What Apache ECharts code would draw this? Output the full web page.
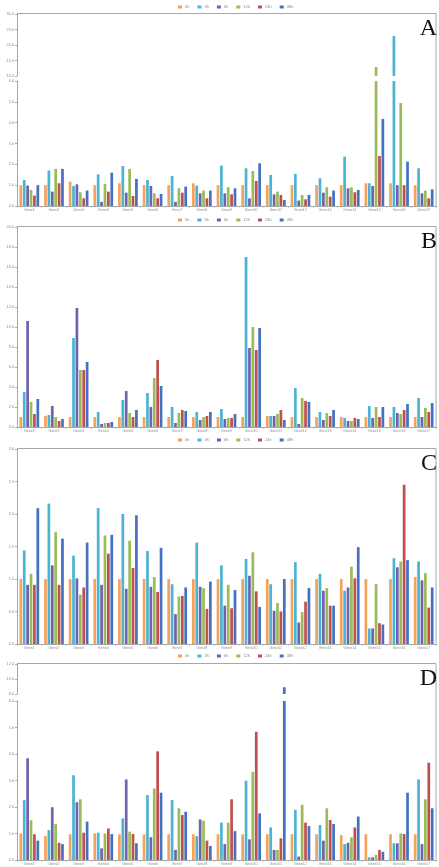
<!DOCTYPE html>
<html>
<head>
<meta charset="utf-8">
<script src="https://cdn.jsdelivr.net/npm/echarts@6/dist/echarts.min.js"></script>
<style>
  html, body { margin: 0; padding: 0; background: #fff; }
  #chart { width: 439px; height: 867px; }
</style>
</head>
<body>
<div id="chart"></div>
<script>
// Categories shared by all four panels
const categories = ['Gene1','Gene2','Gene3','Gene4','Gene5','Gene6','Gene7','Gene8','Gene9',
  'Gene10','Gene11','Gene12','Gene13','Gene14','Gene15','Gene16','Gene17'];

// Treatment time points (legend entries)
const seriesNames = ['0h','3h','6h','12h','24h','48h'];

// Panel A relative expression
const a0h  = [1.0,1.0,1.17,1.0,1.09,1.0,1.0,1.09,1.0,1.0,1.0,1.0,1.0,1.0,1.09,1.09,1.0];
const a3h  = [1.25,1.7,0.96,1.52,1.92,1.25,1.44,0.98,1.94,1.81,1.49,1.54,1.33,2.37,1.09,22.9,1.81];
const a6h  = [0.98,0.69,1.04,0.2,0.64,0.96,0.2,0.61,0.61,0.37,0.56,0.26,0.64,0.85,0.96,1.0,0.61];
const a12h = [0.77,1.78,0.66,1.06,1.78,0.61,0.85,0.74,0.9,1.68,0.69,0.53,0.9,0.9,12.9,4.94,0.74];
const a24h = [0.5,1.09,0.37,0.69,0.48,0.37,0.64,0.37,0.56,1.2,0.53,0.32,0.45,0.66,2.4,1.0,0.37];
const a48h = [1.0,1.78,0.74,1.6,1.3,0.58,0.93,0.74,0.85,2.05,0.29,0.53,0.74,0.77,4.18,2.13,0.8];

// Panel B relative expression
const b0h  = [1.0,1.1,1.0,1.0,1.0,1.0,1.0,1.0,1.0,1.0,1.1,1.0,1.0,1.0,1.0,1.0,1.0];
const b3h  = [3.5,1.2,8.9,1.5,2.7,3.4,2.0,1.5,1.8,17.0,1.1,3.9,1.5,0.9,2.1,2.0,2.9];
const b6h  = [10.6,2.1,11.9,0.3,3.6,2.0,0.4,0.7,0.8,7.9,1.1,0.3,0.7,0.6,0.9,1.4,1.0];
const b12h = [2.5,1.0,5.7,0.4,1.4,4.9,1.4,1.0,0.9,10.0,1.3,2.9,1.4,0.6,2.0,1.3,1.9];
const b24h = [1.3,0.6,5.7,0.4,1.0,6.7,1.7,1.1,0.9,7.7,1.7,2.6,1.1,0.9,1.0,1.7,1.5];
const b48h = [2.8,0.8,6.5,0.5,1.7,4.1,1.6,1.5,1.3,9.9,0.7,2.5,1.7,0.8,2.0,2.3,2.4];

// Panel C relative expression
const c0h  = [1.0,1.0,1.0,1.0,1.0,1.0,1.0,1.0,1.0,1.0,1.0,1.0,1.0,1.0,1.0,1.0,1.03];
const c3h  = [1.44,2.16,1.36,2.09,2.0,1.43,0.92,1.56,1.21,1.31,0.92,1.26,1.08,0.82,0.24,1.32,1.27];
const c6h  = [0.91,1.21,1.01,0.91,0.85,0.88,0.46,0.88,0.59,1.05,0.51,0.33,0.82,0.87,0.24,1.18,0.98];
const c12h = [1.08,1.72,0.76,1.67,1.59,1.03,0.73,0.86,0.91,1.41,0.63,0.49,0.86,1.19,0.92,1.27,1.09];
const c24h = [0.91,0.91,0.87,1.39,1.17,0.8,0.74,0.54,0.55,0.81,0.5,0.65,0.59,1.01,0.32,2.45,0.56];
const c48h = [2.09,1.62,1.56,1.68,1.98,1.48,0.87,0.96,0.83,0.57,1.0,0.86,0.59,1.49,0.3,1.29,0.87];

// Panel D relative expression
const d0h  = [1.0,0.9,0.97,1.0,0.97,0.97,0.97,0.97,0.97,0.97,0.97,0.97,0.97,0.94,0.97,0.97,0.97];
const d3h  = [2.26,1.13,3.2,1.03,1.57,2.45,2.26,0.9,1.41,2.99,1.23,1.89,1.32,0.6,0.1,0.63,3.04];
const d6h  = [3.84,1.99,2.18,0.44,3.04,0.86,0.38,1.53,0.6,0.78,0.38,0.13,0.73,0.65,0.1,0.63,0.6];
const d12h = [1.5,1.36,2.29,1.0,1.07,2.7,1.95,1.48,1.41,3.33,0.38,2.08,1.95,0.86,0.19,1.0,2.29];
const d24h = [0.97,0.65,1.03,1.19,0.98,4.1,1.7,0.73,2.29,4.84,0.82,1.41,1.51,1.23,0.38,0.98,3.67];
const d48h = [0.73,0.6,1.45,0.98,0.63,2.54,1.82,0.53,1.09,1.76,8.9,1.28,1.36,1.64,0.31,2.54,1.95];

// Y-axis tick settings per axis segment
const aUpperTicks = { min: 10, max: 30, interval: 5 };
const aLowerTicks = { min: 0, max: 6, interval: 1 };
const bTicks = { min: 0, max: 20, interval: 2 };
const cTicks = { min: 0, max: 3, interval: 0.5 };
const dUpperTicks = { min: 8, max: 12, interval: 2 };
const dLowerTicks = { min: 0, max: 6, interval: 1 };

const colors = ['#F5A35A', '#4BB4D4', '#6E63AE', '#9BBB59', '#C0504D', '#4472C0'];

// Layout: each panel is one or two stacked plot segments (broken axis)
const panels = [
  { letter: 'A', legendTop: 7, series: [a0h, a3h, a6h, a12h, a24h, a48h],
    segments: [ { top: 14, height: 62, ticks: aUpperTicks }, { top: 81, height: 125, ticks: aLowerTicks } ] },
  { letter: 'B', legendTop: 220, series: [b0h, b3h, b6h, b12h, b24h, b48h],
    segments: [ { top: 227, height: 200, ticks: bTicks } ] },
  { letter: 'C', legendTop: 440, series: [c0h, c3h, c6h, c12h, c24h, c48h],
    segments: [ { top: 449, height: 195, ticks: cTicks } ] },
  { letter: 'D', legendTop: 656, series: [d0h, d3h, d6h, d12h, d24h, d48h],
    segments: [ { top: 664, height: 30, ticks: dUpperTicks }, { top: 701, height: 159, ticks: dLowerTicks } ] }
];

const PLOT_LEFT = 17;
const PLOT_RIGHT = 436;
const LINE = '#a8a8a8';
const TEXT = '#8a8a8a';
const FONT = 'Liberation Sans';

const grid = [], xAxis = [], yAxis = [], series = [], legend = [], graphic = [];

panels.forEach(p => {
  legend.push({
    data: seriesNames,
    top: p.legendTop - 2,
    left: 178,
    padding: 0,
    itemWidth: 4,
    itemHeight: 3,
    itemGap: 8,
    icon: 'rect',
    textStyle: { fontSize: 4, color: TEXT, fontFamily: FONT, padding: [0, 0, 0, -2] }
  });

  p.segments.forEach((seg, si) => {
    const gi = grid.length;
    const isBottom = si === p.segments.length - 1;
    grid.push({ left: PLOT_LEFT, width: PLOT_RIGHT - PLOT_LEFT, top: seg.top, height: seg.height });
    xAxis.push({
      type: 'category',
      gridIndex: gi,
      data: categories,
      show: isBottom,
      axisLine: { lineStyle: { color: LINE, width: 1 } },
      axisTick: { show: true, length: 1.5, lineStyle: { color: LINE } },
      axisLabel: { fontSize: 3.6, color: TEXT, margin: 2, interval: 0, fontFamily: FONT }
    });
    yAxis.push({
      type: 'value',
      gridIndex: gi,
      min: seg.ticks.min,
      max: seg.ticks.max,
      interval: seg.ticks.interval,
      splitLine: { show: false },
      axisLine: { show: true, lineStyle: { color: LINE, width: 1 } },
      axisTick: { show: true, length: 2, lineStyle: { color: LINE } },
      axisLabel: { fontSize: 3.8, color: TEXT, margin: 3, fontFamily: FONT,
        formatter: v => v.toFixed(1) }
    });
    p.series.forEach((vals, k) => {
      series.push({
        name: seriesNames[k],
        type: 'bar',
        xAxisIndex: gi,
        yAxisIndex: gi,
        data: vals,
        clip: true,
        barGap: '25%',
        barCategoryGap: '20%',
        itemStyle: { color: colors[k] },
        emphasis: { disabled: true }
      });
    });
  });

  const top = p.segments[0].top - 0.5;
  const bottom = p.segments[p.segments.length - 1].top + p.segments[p.segments.length - 1].height;
  // frame: top edge and right edge of the plot box
  graphic.push({
    type: 'polyline',
    shape: { points: [[PLOT_LEFT, top], [PLOT_RIGHT, top], [PLOT_RIGHT, bottom]] },
    style: { stroke: LINE, lineWidth: 1, fill: null },
    silent: true
  });
  graphic.push({
    type: 'text',
    right: 439 - 437,
    top: top + 3,
    style: { text: p.letter, font: '24px "Liberation Serif", "DejaVu Serif", serif', fill: '#111' },
    silent: true
  });
});

const chart = echarts.init(document.getElementById('chart'), null, { renderer: 'canvas' });
chart.setOption({
  animation: false,
  color: colors,
  legend,
  grid,
  xAxis,
  yAxis,
  series,
  graphic
});
</script>
</body>
</html>
